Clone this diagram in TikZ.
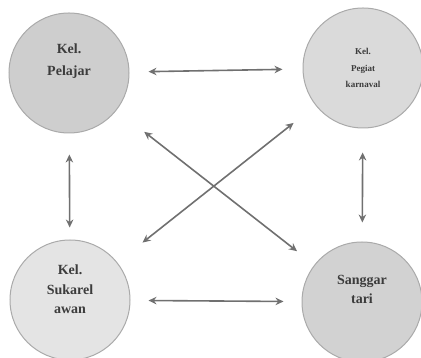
\documentclass[tikz,border=0pt]{standalone}
\usepackage{fontspec}
\setmainfont{Liberation Serif}
\usetikzlibrary{positioning,arrows.meta}
\definecolor{edgeColor}{RGB}{112,112,112}
\definecolor{rimColor}{RGB}{170,170,170}
\definecolor{textColor}{RGB}{60,60,60}

\begin{document}
\begin{tikzpicture}[x=1pt,y=1pt,textColor]
    \tikzstyle{group} = [circle,draw=rimColor,line width=1pt,minimum size=120pt,inner sep=0pt,align=center,font=\bfseries]
    \tikzstyle{link} = [<->,draw=edgeColor,line width=1.6pt]
    \tikzset{>={Stealth[length=8pt,width=7.5pt]}}

    \useasboundingbox (0,0) rectangle (421,358);

    \node [group, fill={rgb,255:red,206;green,206;blue,206}, font=\bfseries\fontsize{14}{22}\selectfont] (pelajar) at (69,285) {Kel.\\Pelajar\\[4pt]};
    \node [group, fill={rgb,255:red,218;green,218;blue,218}, font=\bfseries\fontsize{9}{16.5}\selectfont] (karnaval) at (363,290) {Kel.\\Pegiat\\karnaval};
    \node [group, fill={rgb,255:red,228;green,228;blue,228}, font=\bfseries\fontsize{14}{19.5}\selectfont] (relawan) at (70,58) {Kel.\\Sukarel\\awan\\[2pt]};
    \node [group, fill={rgb,255:red,210;green,210;blue,210}, font=\bfseries\fontsize{14}{19}\selectfont] (sanggar) at (362,56) {Sanggar\\tari\\[6pt]};

    \draw [link, shorten <=19pt, shorten >=20pt] (pelajar) -- (karnaval);
    \draw [link, shorten <=18pt, shorten >=18pt] (relawan) -- (sanggar);
    \draw [link, shorten <=21pt, shorten >=12pt] (pelajar) -- (relawan);
    \draw [link, shorten <=24pt, shorten >=19pt] (karnaval) -- (sanggar);
    \draw [link, shorten <=35pt, shorten >=22pt] (pelajar) -- (sanggar);
    \draw [link, shorten <=28pt, shorten >=32pt] (karnaval) -- (relawan);

\end{tikzpicture}
\end{document}
